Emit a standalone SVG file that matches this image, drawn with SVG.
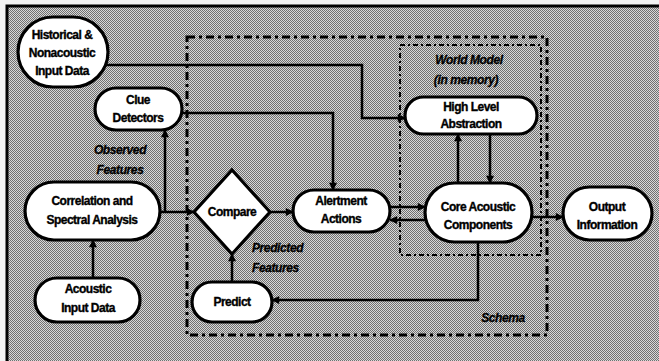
<svg xmlns="http://www.w3.org/2000/svg" width="659" height="361" viewBox="0 0 659 361">
  <style>
    .node { fill: #ffffff; stroke: #000000; stroke-width: 3.2; }
    .lbl { font-family: "Liberation Sans", Arial, sans-serif; font-weight: bold; font-size: 12px; letter-spacing: -0.5px; fill: #000000; stroke: #000000; stroke-width: 0.35; text-anchor: middle; }
    .note { font-family: "Liberation Sans", Arial, sans-serif; font-weight: bold; font-style: italic; font-size: 12px; letter-spacing: -0.4px; fill: #000000; stroke: #000000; stroke-width: 0.3; }
    .wire { fill: none; stroke: #000000; stroke-width: 2.5; }
    .arrow { marker-end: url(#head); }
    .schema { fill: none; stroke: #000000; stroke-width: 3; stroke-dasharray: 8 4 3 4; }
    .world { fill: none; stroke: #000000; stroke-width: 2; stroke-dasharray: 5 3 2 3; }
  </style>
  <defs>
    <pattern id="halftone" width="2" height="2" patternUnits="userSpaceOnUse">
      <rect width="2" height="2" fill="#d8d8d8"/>
      <rect x="0" y="0" width="1" height="1" fill="#707070"/>
      <rect x="1" y="1" width="1" height="1" fill="#707070"/>
    </pattern>
    <marker id="head" viewBox="0 0 10 10" refX="9" refY="5" markerWidth="10" markerHeight="8" markerUnits="userSpaceOnUse" orient="auto">
      <path d="M0,0 L10,5 L0,10 Z" fill="#000000"/>
    </marker>
  </defs>

  <!-- page and shaded panel -->
  <rect x="0" y="0" width="659" height="361" fill="#f2f2f2"/>
  <rect x="7" y="6" width="652" height="355" fill="url(#halftone)"/>
  <path d="M7,361 V6 H659" fill="none" stroke="#000000" stroke-width="3"/>

  <!-- grouping boxes -->
  <g id="schema-box">
    <rect class="schema" x="187" y="37" width="360" height="298"/>
    <text class="note" x="503" y="322" text-anchor="middle">Schema</text>
  </g>
  <g id="world-model-box">
    <rect class="world" x="400" y="45" width="141" height="210"/>
    <text class="note" x="469" y="64" text-anchor="middle">World Model</text>
    <text class="note" x="466" y="84" text-anchor="middle">(in memory)</text>
  </g>

  <!-- connectors -->
  <g id="connectors">
    <path class="wire arrow" d="M104,65 H362 V118 H405"/>
    <path class="wire arrow" d="M182,113 H333 V190"/>
    <path class="wire arrow" d="M160,212 H194"/>
    <path class="wire arrow" d="M165,212 V130"/>
    <path class="wire arrow" d="M270,212 H293"/>
    <path class="wire arrow" d="M390,207 H425"/>
    <path class="wire arrow" d="M425,220 H390"/>
    <path class="wire arrow" d="M458,183 V134"/>
    <path class="wire arrow" d="M490,134 V183"/>
    <path class="wire arrow" d="M532,217 H563"/>
    <path class="wire arrow" d="M478,242 V300 H272"/>
    <path class="wire arrow" d="M232,282 V254"/>
    <path class="wire arrow" d="M93,278 V240"/>
    <text class="note" x="120" y="154" text-anchor="middle">Observed</text>
    <text class="note" x="120" y="174" text-anchor="middle">Features</text>
    <text class="note" x="252" y="252">Predicted</text>
    <text class="note" x="252" y="272">Features</text>
  </g>

  <!-- nodes -->
  <g id="historical-input">
    <rect class="node" x="18" y="17" width="90" height="70" rx="35"/>
    <text class="lbl" x="62" y="39">Historical &amp;</text>
    <text class="lbl" x="62" y="57">Nonacoustic</text>
    <text class="lbl" x="62" y="75">Input Data</text>
  </g>
  <g id="clue-detectors">
    <rect class="node" x="95" y="88" width="87" height="42" rx="21"/>
    <text class="lbl" x="138" y="104">Clue</text>
    <text class="lbl" x="138" y="122">Detectors</text>
  </g>
  <g id="correlation">
    <rect class="node" x="25" y="182" width="135" height="58" rx="29"/>
    <text class="lbl" x="92" y="205">Correlation and</text>
    <text class="lbl" x="92" y="224">Spectral Analysis</text>
  </g>
  <g id="acoustic-input">
    <rect class="node" x="35" y="278" width="105" height="44" rx="22"/>
    <text class="lbl" x="88" y="293">Acoustic</text>
    <text class="lbl" x="88" y="312">Input Data</text>
  </g>
  <g id="compare">
    <polygon class="node" points="232,170 270,212 232,254 194,212"/>
    <text class="lbl" x="232" y="216">Compare</text>
  </g>
  <g id="predict">
    <rect class="node" x="192" y="282" width="80" height="40" rx="20"/>
    <text class="lbl" x="232" y="306">Predict</text>
  </g>
  <g id="alertment-actions">
    <rect class="node" x="293" y="190" width="97" height="42" rx="21"/>
    <text class="lbl" x="341" y="205">Alertment</text>
    <text class="lbl" x="341" y="223">Actions</text>
  </g>
  <g id="high-level-abstraction">
    <rect class="node" x="405" y="97" width="132" height="37" rx="18.5"/>
    <text class="lbl" x="471" y="111">High Level</text>
    <text class="lbl" x="471" y="128">Abstraction</text>
  </g>
  <g id="core-acoustic">
    <rect class="node" x="425" y="183" width="107" height="59" rx="29.5"/>
    <text class="lbl" x="478" y="211">Core Acoustic</text>
    <text class="lbl" x="478" y="229">Components</text>
  </g>
  <g id="output-information">
    <rect class="node" x="563" y="187" width="89" height="53" rx="26.5"/>
    <text class="lbl" x="607" y="211">Output</text>
    <text class="lbl" x="607" y="229">Information</text>
  </g>
</svg>
